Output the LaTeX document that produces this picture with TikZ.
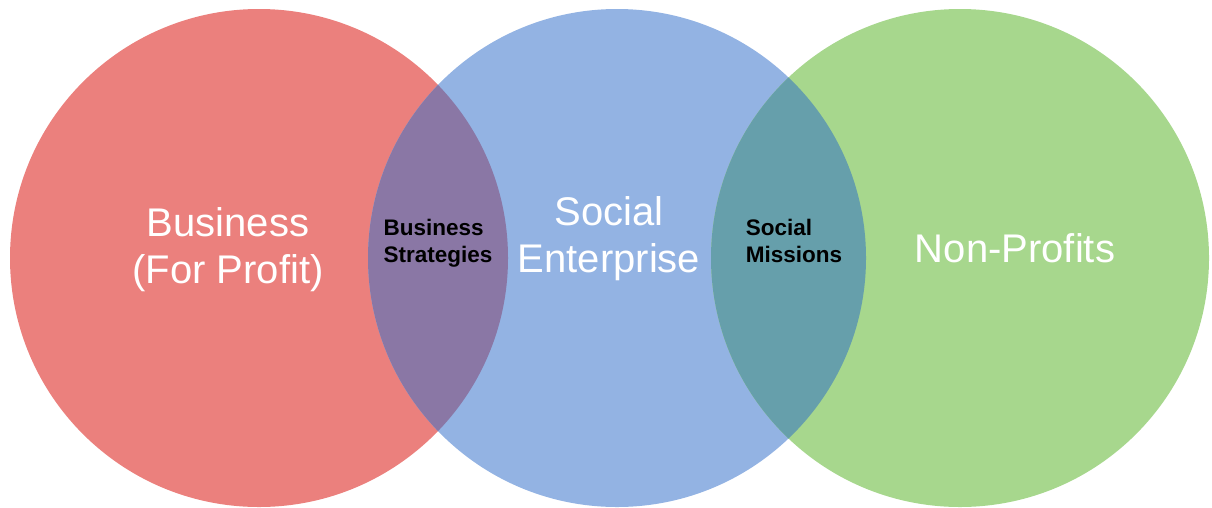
\documentclass[tikz,border=0pt]{standalone}
\usepackage{fontspec}
\setmainfont{Liberation Sans}
\definecolor{vennred}{HTML}{EB807D}
\definecolor{vennblue}{HTML}{93B3E3}
\definecolor{venngreen}{HTML}{A7D78D}
\definecolor{vennpurple}{HTML}{8A77A5}
\definecolor{vennteal}{HTML}{669FAB}
\tikzset{
  ring/.style={circle, inner sep=0pt, minimum size=498pt},
  biglabel/.style={text=white, align=center, font=\fontsize{40}{47}\selectfont},
  smalllabel/.style={text=black, align=left, inner sep=0pt, font=\bfseries\fontsize{22.5}{27}\selectfont}
}

\begin{document}
\begin{tikzpicture}[x=1pt, y=-1pt]
\useasboundingbox (0,0) rectangle (1212,507);
\node[ring, fill=vennred] (biz) at (259,258) {};
\node[ring, fill=vennblue] (soc) at (617,258) {};
\node[ring, fill=venngreen] (npo) at (960,258) {};
\begin{scope}
\clip (biz.center) circle (249pt);
\fill[vennpurple] (soc.center) circle (249pt);
\end{scope}
\begin{scope}
\clip (soc.center) circle (249pt);
\fill[vennteal] (npo.center) circle (249pt);
\end{scope}
\node[biglabel] (bizlabel) at (228,250) {Business\\(For Profit)};
\node[biglabel] (soclabel) at (609,239) {Social\\Enterprise};
\node[biglabel] (npolabel) at (1015,248) {Non-Profits};
\node[smalllabel] (stratlabel) at (438,243) {Business\\Strategies};
\node[smalllabel] (misslabel) at (794,241) {Social\\Missions};
\end{tikzpicture}
\end{document}
